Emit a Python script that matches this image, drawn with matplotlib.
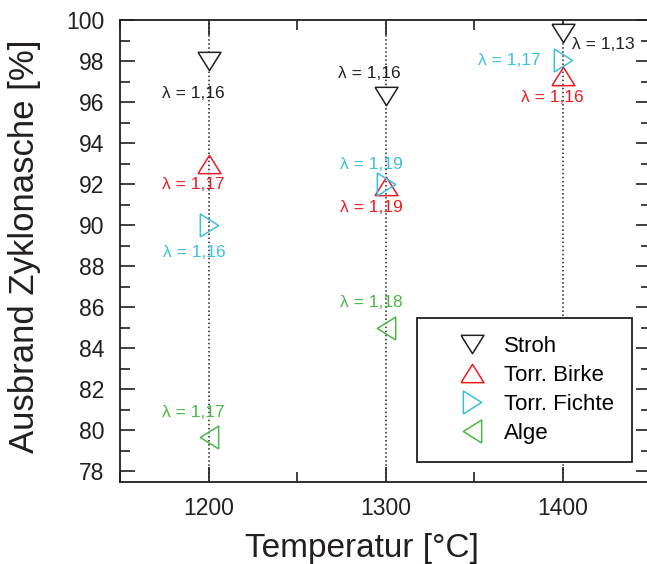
import numpy as np
from matplotlib import pyplot as plt
from matplotlib.ticker import MultipleLocator

plt.rcParams['font.family'] = ['Liberation Sans', 'DejaVu Sans']

# Temperaturen und Ausbrand der Zyklonasche
temps = [1200, 1300, 1400]
stroh = [98.0, 96.3, 99.35]
birke = [93.0, 91.9, 97.25]
fichte = [90.0, 92.0, 98.05]
alge_t = [1200, 1300]
alge = [79.7, 85.0]

# lambda-Beschriftungen
lam_x = [1191.5, 1291, 1423, 1370, 1394, 1191.5, 1192, 1292, 1292, 1292, 1191.5]
lam_y = [96.4, 97.4, 98.8, 98.05, 96.2, 92.0, 88.65, 92.98, 90.86, 86.23, 80.89]
lam_txt = ["1,16", "1,16", "1,13", "1,17", "1,16", "1,17", "1,16", "1,19", "1,19", "1,18", "1,17"]
lam_col = ["k", "k", "k", "c", "r", "r", "c", "c", "r", "g", "g"]

farben = {"k": "#231f20", "r": "#ed1c24", "c": "#3cc0e0", "g": "#4db848"}

# etwas flachere Dreiecke als die Standardmarker
h = 0.8
m_down = [(-1, h), (1, h), (0, -h), (-1, h)]
m_up = [(-1, -h), (1, -h), (0, h), (-1, -h)]
m_right = [(-h, -1), (-h, 1), (h, 0), (-h, -1)]
m_left = [(h, -1), (h, 1), (-h, 0), (h, -1)]

fig = plt.figure(figsize=(6.47, 5.64), dpi=100)
ax = fig.add_axes([120 / 647, 1 - 481.7 / 564, 531 / 647, (481.7 - 20) / 564])

for t in temps:
    ax.axvline(t, color="#231f20", linestyle=":", linewidth=1.1, zorder=1)

ms = 16.5
ax.plot(temps, stroh, linestyle="none", marker=m_down, ms=ms, mfc="white", mec=farben["k"], mew=1.1, label="Stroh", zorder=3)
ax.plot(temps, birke, linestyle="none", marker=m_up, ms=ms, mfc="none", mec=farben["r"], mew=1.1, label="Torr. Birke", zorder=3)
ax.plot(temps, fichte, linestyle="none", marker=m_right, ms=ms, mfc="none", mec=farben["c"], mew=1.1, label="Torr. Fichte", zorder=4)
ax.plot(alge_t, alge, linestyle="none", marker=m_left, ms=ms, mfc="none", mec=farben["g"], mew=1.1, label="Alge", zorder=3)

for x, y, s, c in zip(lam_x, lam_y, lam_txt, lam_col):
    ax.text(x, y, "\u03bb = " + s, color=farben[c], fontsize=12.5, ha="center", va="center", zorder=5)

ax.set_xlim(1150, 1450)
ax.set_ylim(77.5, 100)
ax.xaxis.set_major_locator(MultipleLocator(100))
ax.xaxis.set_minor_locator(MultipleLocator(50))
ax.yaxis.set_major_locator(MultipleLocator(2))
ax.yaxis.set_minor_locator(MultipleLocator(1))
ax.tick_params(which="both", direction="in", top=True, right=True, width=1.2, colors="#231f20", labelsize=16.5)
ax.tick_params(which="major", length=11, pad=11)
ax.tick_params(which="minor", length=7)
for sp in ax.spines.values():
    sp.set_linewidth(1.3)
    sp.set_color("#231f20")

ax.set_xlabel("Temperatur [°C]", fontsize=24, color="#231f20", va="center")
ax.set_ylabel("Ausbrand Zyklonasche [%]", fontsize=25, color="#231f20", va="center")
ax.xaxis.set_label_coords((362 - 120) / 531, (481.7 - 548) / 461.7)
ax.yaxis.set_label_coords((25 - 120) / 531, (481.7 - 246.5) / 461.7)

leg = ax.legend(loc="lower right", bbox_to_anchor=(632 / 647, 1 - 461.7 / 564), bbox_transform=fig.transFigure,
                fontsize=16, frameon=True, fancybox=False, edgecolor="#231f20", framealpha=1,
                borderpad=0.8, labelspacing=0.36, handlelength=3.38, handletextpad=-0.25, borderaxespad=0)
leg.get_frame().set_linewidth(1.3)

plt.savefig("out.png", dpi=100)
